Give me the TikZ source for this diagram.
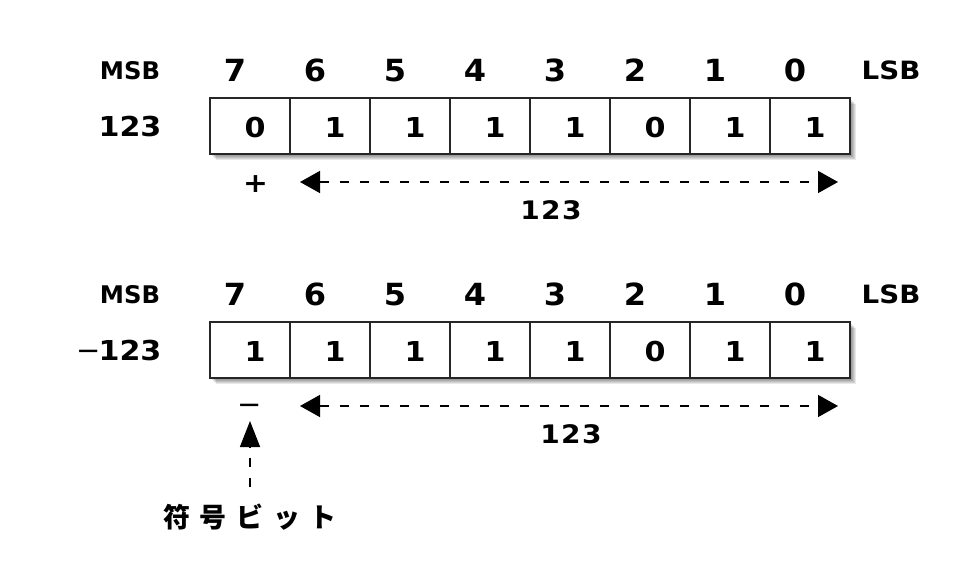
\documentclass[tikz,border=0pt]{standalone}
\usepackage{fontspec}
\setmainfont{DejaVu Sans}
\newfontfamily\cjk{Noto Sans CJK JP}
\usetikzlibrary{arrows.meta}
\begin{document}
\begin{tikzpicture}[x=1pt,y=-1pt,
  msb/.style={inner sep=0pt, font=\bfseries\fontsize{24.3}{24.3}\selectfont},
  lsb/.style={inner sep=0pt, font=\bfseries\fontsize{25.2}{25.2}\selectfont\addfontfeatures{FakeStretch=1.1}},
  hdr/.style={inner sep=0pt, font=\bfseries\fontsize{30.5}{30.5}\selectfont\addfontfeatures{FakeStretch=1.05}},
  val/.style={inner sep=0pt, font=\bfseries\fontsize{27.4}{27.4}\selectfont\addfontfeatures{FakeStretch=1.1}},
  rowlbl/.style={inner sep=0pt, font=\bfseries\fontsize{27.4}{27.4}\selectfont\addfontfeatures{FakeStretch=1.1}},
  span lbl/.style={inner sep=0pt, font=\bfseries\fontsize{25.5}{25.5}\selectfont\addfontfeatures{FakeStretch=1.1,LetterSpace=5}},
  plus/.style={inner sep=0pt, font=\bfseries\fontsize{27}{27}\selectfont\addfontfeatures{FakeStretch=1.1}},
  minus/.style={inner sep=0pt, font=\fontsize{29}{29}\selectfont},
  cell/.style={draw=black!85, line width=1.5pt, fill=white, minimum width=80pt, minimum height=56pt, inner sep=0pt},
  span/.style={line width=1.5pt, dash pattern=on 9pt off 11pt},
  both tips/.style={{Triangle[length=20pt,width=22pt]}-{Triangle[length=20pt,width=22pt]}},
  up tip/.style={-{Triangle[length=26pt,width=20pt]}}
]
\useasboundingbox (0,0) rectangle (960,588);
\fill[white] (0,0) rectangle (960,588);

% ---------- row 1 : +123 ----------
\node[msb] (msb1) at (130,71) {MSB};
\node[lsb] (lsb1) at (891,70.5) {LSB};
\foreach \b in {0,...,7} \node[hdr] (h1-\b) at ({235+80*(7-\b)},70.5) {\b};
\foreach \s in {2,3,4,5,6}
  \fill[black,opacity=0.09] (\s+210,\s+98) rectangle (\s+850,\s+154);
\foreach \b/\v in {7/0,6/1,5/1,4/1,3/1,2/0,1/1,0/1} {
  \node[cell] (a\b) at ({250+80*(7-\b)},126) {};
  \node[val] (va\b) at ([shift={(5,2)}]a\b.center) {\v};
}
\node[rowlbl] (n1) at (130,127) {123};
\node[plus] (s1) at (255.5,184) {+};
\coordinate (l1) at (300,182);
\coordinate (r1) at (838,182);
\draw[span, both tips] (l1) -- (r1);
\node[span lbl] (m1) at (551,210) {123};

% ---------- row 2 : -123 ----------
\node[msb] (msb2) at (130,295) {MSB};
\node[lsb] (lsb2) at (891,294.5) {LSB};
\foreach \b in {0,...,7} \node[hdr] (h2-\b) at ({235+80*(7-\b)},294.5) {\b};
\foreach \s in {2,3,4,5,6}
  \fill[black,opacity=0.09] (\s+210,\s+322) rectangle (\s+850,\s+378);
\foreach \b/\v in {7/1,6/1,5/1,4/1,3/1,2/0,1/1,0/1} {
  \node[cell] (b\b) at ({250+80*(7-\b)},350) {};
  \node[val] (vb\b) at ([shift={(5,2)}]b\b.center) {\v};
}
\node[rowlbl] (n2) at (130,351) {123};
\node[minus] (neg2) at (89,355) {−};
\node[minus] (s2) at (250,409) {−};
\coordinate (l2) at (300,406);
\coordinate (r2) at (838,406);
\draw[span, both tips] (l2) -- (r2);
\node[span lbl] (m2) at (571,434) {123};

% sign bit pointer
\node[inner sep=0pt, font=\cjk\bfseries\fontsize{27}{27}\selectfont\addfontfeatures{LetterSpace=36}] (sb) at (250,517.5) {符号ビット};
\coordinate (ub) at (250,487);
\coordinate (ut) at (250,421);
\draw[span, up tip] (ub) -- (ut);
\end{tikzpicture}
\end{document}
